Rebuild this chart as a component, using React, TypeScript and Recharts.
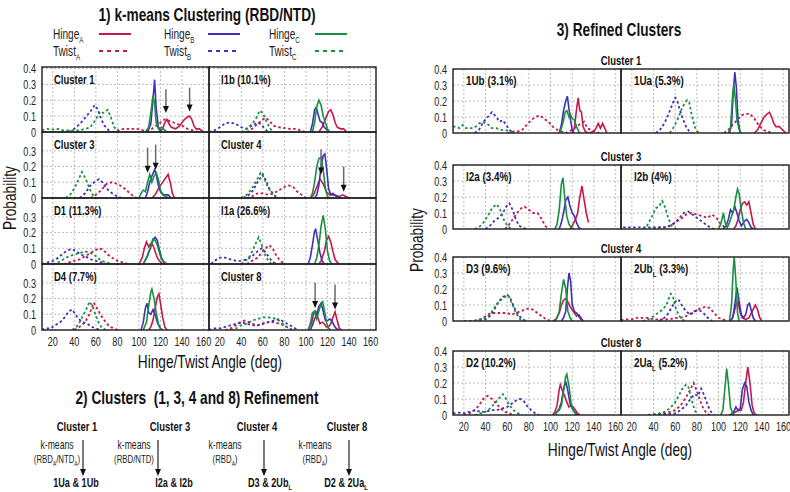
import React from 'react';
import { LineChart, Line, XAxis, YAxis, CartesianGrid, ReferenceLine } from 'recharts';

type Pt = [number, number];

const RED = '#c8174a';
const BLUE = '#3f30b8';
const GREEN = '#17903f';
const FONT = '"Liberation Sans", Arial, sans-serif';
const SX = 0.76; // horizontal squeeze, the figure uses a narrow face
const TICK_SX = 0.7;

const X_TICKS = [20, 40, 60, 80, 100, 120, 140, 160];
const X_MINOR = [10, 20, 30, 40, 50, 60, 70, 80, 90, 100, 110, 120, 130, 140, 150, 160];
const Y_TICKS = [0, 0.1, 0.2, 0.3, 0.4];
const Y_TICKS_LOW = [0, 0.1, 0.2, 0.3];
const Y_MINOR = [0, 0.05, 0.1, 0.15, 0.2, 0.25, 0.3, 0.35, 0.4];

// ---- 1) k-means clusters ----
// Cluster 1
const c1HingeA: Pt[] = [[118, 0], [122, 0.02], [124, 0.06], [126, 0.08], [128, 0.05], [130, 0.03], [134, 0.02], [138, 0.04], [141, 0.07], [144, 0.09], [147, 0.1], [149, 0.08], [151, 0.04], [153, 0.02], [156, 0.02], [160, 0]];
const c1HingeB: Pt[] = [[108, 0], [111, 0.05], [113, 0.2], [114.5, 0.33], [116, 0.15], [118, 0.03], [121, 0]];
const c1HingeC: Pt[] = [[106, 0], [109, 0.03], [111, 0.12], [113, 0.23], [114.5, 0.18], [116, 0.06], [118, 0.02], [121, 0.03], [124, 0.01], [126, 0]];
const c1TwistA: Pt[] = [[75, 0], [80, 0.01], [86, 0.02], [92, 0.02], [98, 0.02], [104, 0.01], [108, 0.01], [112, 0.02], [116, 0.04], [120, 0.06], [124, 0.08], [128, 0.07], [132, 0.06], [136, 0.05], [140, 0.04], [145, 0.02], [150, 0.01], [155, 0]];
const c1TwistB: Pt[] = [[35, 0], [40, 0.02], [45, 0.05], [50, 0.09], [55, 0.13], [59, 0.17], [62, 0.14], [65, 0.08], [68, 0.04], [72, 0.01], [75, 0]];
const c1TwistC: Pt[] = [[10, 0.01], [15, 0.02], [20, 0.015], [25, 0.02], [30, 0.01], [35, 0.01], [45, 0.01], [55, 0.03], [60, 0.08], [64, 0.13], [67, 0.12], [71, 0.14], [74, 0.09], [77, 0.03], [80, 0.01], [83, 0]];

// I1b
const i1bHingeA: Pt[] = [[112, 0], [115, 0.03], [118, 0.08], [121, 0.13], [123, 0.14], [125, 0.11], [127, 0.06], [129, 0.03], [132, 0.02], [135, 0.02], [138, 0]];
const i1bHingeB: Pt[] = [[104, 0], [106, 0.05], [108, 0.14], [109.5, 0.155], [111, 0.12], [113, 0.07], [115, 0.06], [117, 0.03], [120, 0.01], [122, 0]];
const i1bHingeC: Pt[] = [[106, 0], [108, 0.06], [110, 0.16], [112, 0.2], [114, 0.17], [116, 0.1], [118, 0.06], [120, 0.02], [122, 0]];
const i1bTwistA: Pt[] = [[45, 0], [50, 0.02], [55, 0.05], [60, 0.08], [63, 0.09], [66, 0.07], [70, 0.04], [75, 0.03], [80, 0.025], [85, 0.02], [90, 0.02], [95, 0.01], [100, 0]];
const i1bTwistB: Pt[] = [[10, 0], [15, 0.01], [20, 0.03], [25, 0.055], [30, 0.06], [35, 0.05], [40, 0.03], [45, 0.02], [50, 0.04], [55, 0.06], [58, 0.05], [62, 0.02], [65, 0]];
const i1bTwistC: Pt[] = [[40, 0], [45, 0.02], [50, 0.05], [54, 0.09], [57, 0.135], [60, 0.12], [63, 0.07], [67, 0.02], [70, 0]];

// Cluster 3
const c3HingeA: Pt[] = [[112, 0], [115, 0.02], [118, 0.06], [121, 0.09], [124, 0.12], [127, 0.15], [129, 0.1], [131, 0.03], [133, 0]];
const c3HingeB: Pt[] = [[106, 0], [108, 0.04], [110, 0.1], [112, 0.14], [114.5, 0.18], [116, 0.15], [118, 0.08], [120, 0.04], [123, 0.02], [127, 0.02], [130, 0]];
const c3HingeC: Pt[] = [[100, 0], [102, 0.03], [104, 0.05], [106, 0.04], [108, 0.1], [110, 0.15], [112, 0.1], [114, 0.14], [116, 0.16], [118, 0.12], [120, 0.05], [122, 0.02], [125, 0.01], [127, 0]];
const c3TwistA: Pt[] = [[55, 0], [60, 0.02], [65, 0.05], [70, 0.09], [75, 0.1], [80, 0.09], [85, 0.07], [90, 0.04], [95, 0.01], [98, 0]];
const c3TwistB: Pt[] = [[45, 0], [50, 0.03], [55, 0.08], [60, 0.11], [63, 0.12], [66, 0.1], [70, 0.06], [75, 0.03], [80, 0.01], [84, 0]];
const c3TwistC: Pt[] = [[32, 0], [36, 0.02], [40, 0.06], [44, 0.12], [47, 0.165], [50, 0.13], [53, 0.08], [56, 0.03], [60, 0]];

// Cluster 4
const c4HingeA: Pt[] = [[104, 0], [107, 0.02], [110, 0.07], [113, 0.12], [116, 0.09], [119, 0.04], [122, 0.02], [125, 0.03], [128, 0.01], [131, 0.01], [134, 0.02], [137, 0.01], [140, 0]];
const c4HingeB: Pt[] = [[108, 0], [110, 0.02], [112, 0.08], [114, 0.2], [116, 0.27], [117.5, 0.28], [119, 0.2], [121, 0.06], [123, 0.02], [126, 0.02], [129, 0.015], [132, 0]];
const c4HingeC: Pt[] = [[104, 0], [106, 0.03], [108, 0.1], [110, 0.2], [112, 0.25], [114, 0.26], [116, 0.18], [118, 0.06], [120, 0.01], [122, 0]];
const c4TwistA: Pt[] = [[45, 0], [50, 0.01], [55, 0.03], [60, 0.03], [65, 0.02], [70, 0.03], [75, 0.05], [80, 0.07], [84, 0.08], [88, 0.07], [92, 0.04], [96, 0.02], [100, 0]];
const c4TwistB: Pt[] = [[42, 0], [47, 0.02], [51, 0.05], [55, 0.1], [60, 0.15], [63, 0.11], [66, 0.06], [70, 0.02], [74, 0]];
const c4TwistC: Pt[] = [[40, 0], [45, 0.02], [50, 0.06], [54, 0.11], [58, 0.16], [61, 0.13], [64, 0.08], [68, 0.03], [72, 0]];

// D1
const d1HingeA: Pt[] = [[100, 0], [103, 0.04], [105, 0.1], [107, 0.14], [109, 0.11], [111, 0.13], [113, 0.12], [115, 0.08], [117, 0.04], [119, 0.02], [122, 0]];
const d1HingeB: Pt[] = [[104, 0], [107, 0.04], [110, 0.09], [113, 0.15], [115, 0.17], [117, 0.15], [119, 0.09], [121, 0.04], [123, 0.01], [125, 0]];
const d1HingeC: Pt[] = [[104, 0], [108, 0.05], [111, 0.12], [113, 0.16], [115, 0.15], [117, 0.12], [119, 0.07], [121, 0.03], [124, 0.01], [126, 0]];
const d1TwistA: Pt[] = [[30, 0], [35, 0.01], [40, 0.02], [45, 0.03], [50, 0.05], [55, 0.07], [60, 0.09], [63, 0.1], [67, 0.09], [71, 0.06], [75, 0.04], [80, 0.02], [85, 0.01], [90, 0]];
const d1TwistB: Pt[] = [[10, 0], [15, 0.01], [20, 0.02], [25, 0.04], [30, 0.07], [35, 0.09], [38, 0.095], [42, 0.08], [46, 0.06], [50, 0.05], [55, 0.03], [60, 0.02], [65, 0.01], [70, 0]];
const d1TwistC: Pt[] = [[20, 0], [25, 0.01], [30, 0.03], [35, 0.05], [40, 0.06], [45, 0.07], [50, 0.08], [55, 0.07], [60, 0.05], [65, 0.02], [70, 0.01], [75, 0]];

// I1a
const i1aHingeA: Pt[] = [[112, 0], [114, 0.02], [117, 0.08], [119, 0.15], [121, 0.175], [123, 0.14], [125, 0.08], [127, 0.03], [129, 0.01], [131, 0]];
const i1aHingeB: Pt[] = [[102, 0], [104, 0.04], [106, 0.12], [108, 0.21], [109, 0.22], [111, 0.15], [113, 0.07], [115, 0.02], [117, 0]];
const i1aHingeC: Pt[] = [[108, 0], [110, 0.04], [112, 0.12], [114, 0.24], [116, 0.31], [118, 0.22], [120, 0.08], [122, 0.02], [124, 0]];
const i1aTwistA: Pt[] = [[45, 0], [50, 0.02], [55, 0.04], [60, 0.08], [64, 0.11], [66, 0.12], [69, 0.1], [72, 0.06], [75, 0.03], [78, 0.01], [81, 0]];
const i1aTwistB: Pt[] = [[12, 0], [15, 0.02], [20, 0.04], [25, 0.04], [30, 0.03], [35, 0.02], [40, 0.02], [45, 0.03], [50, 0.05], [55, 0.08], [59, 0.1], [63, 0.07], [67, 0.03], [70, 0.01], [74, 0]];
const i1aTwistC: Pt[] = [[40, 0], [44, 0.02], [48, 0.05], [52, 0.11], [56, 0.17], [59, 0.12], [62, 0.06], [65, 0.02], [68, 0]];

// D4
const d4HingeA: Pt[] = [[109, 0], [111, 0.02], [113, 0.06], [115, 0.14], [117, 0.21], [118.5, 0.23], [120, 0.17], [122, 0.08], [124, 0.02], [126, 0]];
const d4HingeB: Pt[] = [[102, 0], [104, 0.05], [106, 0.14], [107.5, 0.17], [109, 0.11], [111, 0.1], [113, 0.13], [115, 0.1], [117, 0.05], [119, 0.02], [121, 0]];
const d4HingeC: Pt[] = [[104, 0], [107, 0.05], [109, 0.15], [111, 0.24], [112, 0.26], [114, 0.2], [116, 0.11], [118, 0.04], [120, 0.01], [122, 0]];
const d4TwistA: Pt[] = [[40, 0], [45, 0.02], [50, 0.05], [54, 0.1], [58, 0.175], [61, 0.14], [65, 0.09], [69, 0.05], [73, 0.02], [77, 0.01], [80, 0]];
const d4TwistB: Pt[] = [[10, 0], [13, 0.01], [18, 0.01], [22, 0.03], [27, 0.05], [31, 0.08], [35, 0.12], [38, 0.13], [41, 0.1], [44, 0.07], [48, 0.05], [52, 0.04], [56, 0.02], [60, 0.01], [64, 0]];
const d4TwistC: Pt[] = [[38, 0], [42, 0.02], [45, 0.05], [48, 0.09], [51, 0.13], [54, 0.18], [57, 0.15], [60, 0.09], [63, 0.04], [66, 0.01], [70, 0]];

// Cluster 8
const c8HingeA: Pt[] = [[102, 0], [105, 0.04], [107, 0.1], [109, 0.12], [111, 0.08], [113, 0.04], [115, 0.05], [117, 0.04], [119, 0.02], [121, 0.02], [123, 0.04], [125, 0.08], [127, 0.115], [129, 0.06], [131, 0.01], [133, 0]];
const c8HingeB: Pt[] = [[104, 0], [106, 0.03], [108, 0.07], [110, 0.1], [112, 0.15], [114, 0.17], [116, 0.12], [118, 0.06], [120, 0.06], [122, 0.07], [124, 0.06], [126, 0.03], [128, 0.01], [130, 0]];
const c8HingeC: Pt[] = [[102, 0], [104, 0.04], [106, 0.11], [108, 0.12], [110, 0.07], [112, 0.12], [114, 0.17], [115.5, 0.18], [117, 0.13], [119, 0.05], [121, 0.01], [123, 0]];
const c8TwistA: Pt[] = [[25, 0], [30, 0.01], [35, 0.03], [40, 0.05], [43, 0.06], [47, 0.05], [50, 0.04], [55, 0.03], [60, 0.04], [65, 0.05], [70, 0.05], [75, 0.04], [80, 0.03], [84, 0.01], [88, 0]];
const c8TwistB: Pt[] = [[10, 0], [15, 0.01], [20, 0.01], [25, 0.02], [30, 0.03], [35, 0.04], [40, 0.05], [45, 0.04], [50, 0.03], [55, 0.03], [60, 0.04], [65, 0.05], [70, 0.06], [75, 0.07], [80, 0.05], [85, 0.03], [90, 0.01], [93, 0]];
const c8TwistC: Pt[] = [[30, 0], [35, 0.01], [40, 0.03], [45, 0.04], [50, 0.06], [55, 0.07], [60, 0.08], [65, 0.08], [70, 0.075], [75, 0.06], [80, 0.03], [84, 0.01], [88, 0]];

// ---- 3) refined clusters ----
// 1Ub
const u1bHingeA: Pt[] = [[120, 0], [122, 0.03], [124, 0.15], [125.5, 0.22], [127, 0.14], [128.5, 0.13], [130, 0.04], [132, 0.01], [135, 0], [140, 0.01], [142, 0.03], [144, 0.06], [146, 0.03], [148, 0.06], [150, 0.03], [152, 0]];
const u1bHingeB: Pt[] = [[108, 0], [110, 0.05], [112, 0.14], [114, 0.2], [115.5, 0.23], [117, 0.15], [118.5, 0.08], [120, 0.02], [121, 0]];
const u1bHingeC: Pt[] = [[108, 0], [110, 0.03], [112, 0.08], [113.5, 0.13], [115, 0.14], [117, 0.1], [118, 0.12], [120, 0.09], [122, 0.08], [124, 0.04], [126, 0.01], [127, 0]];
const u1bTwistA: Pt[] = [[60, 0], [66, 0.01], [70, 0.01], [74, 0.02], [78, 0.05], [82, 0.08], [86, 0.1], [90, 0.11], [94, 0.09], [98, 0.07], [102, 0.04], [106, 0.02], [110, 0.01], [114, 0], [120, 0.02], [124, 0.04], [128, 0.06], [131, 0.07], [134, 0.03], [137, 0.02], [141, 0.01], [145, 0]];
const u1bTwistB: Pt[] = [[30, 0], [34, 0.02], [38, 0.07], [42, 0.1], [46, 0.13], [50, 0.1], [53, 0.07], [56, 0.08], [59, 0.05], [62, 0.02], [66, 0]];
const u1bTwistC: Pt[] = [[10, 0.04], [13, 0.04], [16, 0.03], [19, 0.05], [22, 0.03], [25, 0.03], [28, 0.03], [31, 0.04], [34, 0.06], [37, 0.07], [40, 0.06], [43, 0.05], [46, 0.03], [50, 0.03], [54, 0.02], [58, 0.02], [62, 0.01], [66, 0]];

// 1Ua
const u1aHingeA: Pt[] = [[133, 0], [136, 0.02], [139, 0.06], [142, 0.1], [145, 0.12], [147, 0.13], [149, 0.1], [151, 0.06], [153, 0.04], [156, 0.04], [159, 0.02], [162, 0]];
const u1aHingeB: Pt[] = [[110, 0], [112, 0.05], [113.5, 0.25], [115, 0.38], [116.5, 0.28], [118, 0.08], [120, 0]];
const u1aHingeC: Pt[] = [[109, 0], [111, 0.03], [113, 0.24], [114, 0.3], [115.5, 0.22], [117, 0.08], [119, 0.02], [121, 0]];
const u1aTwistA: Pt[] = [[105, 0], [109, 0.02], [113, 0.05], [117, 0.08], [121, 0.11], [125, 0.12], [129, 0.12], [133, 0.09], [137, 0.05], [141, 0.02], [145, 0.01], [150, 0]];
const u1aTwistB: Pt[] = [[42, 0], [46, 0.02], [50, 0.06], [54, 0.12], [58, 0.19], [60, 0.22], [62, 0.2], [64, 0.15], [67, 0.09], [70, 0.04], [73, 0.01], [76, 0]];
const u1aTwistC: Pt[] = [[55, 0], [58, 0.03], [62, 0.08], [66, 0.15], [69, 0.19], [71, 0.205], [73, 0.19], [75, 0.12], [78, 0.04], [80, 0.01], [83, 0]];

// I2a
const i2aHingeA: Pt[] = [[118, 0], [120, 0.02], [123, 0.06], [125, 0.1], [127, 0.2], [129, 0.27], [131, 0.18], [133, 0.1], [135, 0.04]];
const i2aHingeB: Pt[] = [[108, 0], [110, 0.04], [112, 0.1], [114, 0.18], [116, 0.2], [118, 0.14], [120, 0.1], [122, 0.08], [124, 0.04], [126, 0.01], [128, 0]];
const i2aHingeC: Pt[] = [[104, 0], [106, 0.03], [108, 0.12], [110, 0.28], [111.5, 0.32], [113, 0.2], [115, 0.08], [117, 0.03], [119, 0.01], [121, 0]];
const i2aTwistA: Pt[] = [[58, 0], [61, 0.02], [65, 0.06], [69, 0.1], [73, 0.13], [76, 0.14], [80, 0.12], [84, 0.1], [88, 0.1], [92, 0.06], [95, 0.02], [98, 0]];
const i2aTwistB: Pt[] = [[40, 0], [44, 0.02], [48, 0.05], [52, 0.07], [56, 0.1], [60, 0.15], [62, 0.16], [65, 0.12], [68, 0.06], [71, 0.02], [74, 0.01], [78, 0]];
const i2aTwistC: Pt[] = [[30, 0], [34, 0.01], [38, 0.04], [42, 0.08], [46, 0.13], [50, 0.155], [53, 0.13], [56, 0.07], [60, 0.02], [64, 0]];

// I2b
const i2bHingeA: Pt[] = [[114, 0], [116, 0.02], [118, 0.06], [120, 0.12], [122, 0.16], [124, 0.17], [126, 0.15], [128, 0.17], [130, 0.1], [132, 0.03], [134, 0]];
const i2bHingeB: Pt[] = [[104, 0], [107, 0.02], [109, 0.06], [111, 0.12], [113, 0.1], [115, 0.14], [117, 0.1], [119, 0.05], [121, 0.02], [124, 0.05], [126, 0.06], [128, 0.04], [130, 0.01], [132, 0]];
const i2bHingeC: Pt[] = [[100, 0], [102, 0.03], [104.5, 0.1], [106, 0.04], [108, 0.01], [110, 0.04], [112, 0.08], [114, 0.12], [116, 0.2], [117.5, 0.25], [119, 0.22], [121, 0.12], [123, 0.04], [125, 0]];
const i2bTwistA: Pt[] = [[40, 0], [45, 0.01], [50, 0.01], [55, 0.02], [60, 0.04], [65, 0.06], [70, 0.09], [75, 0.1], [80, 0.09], [85, 0.08], [90, 0.07], [94, 0.09], [98, 0.07], [102, 0.03], [106, 0.01], [108, 0]];
const i2bTwistB: Pt[] = [[12, 0.01], [20, 0.01], [30, 0.01], [40, 0.01], [50, 0.01], [55, 0.02], [60, 0.04], [64, 0.07], [68, 0.1], [72, 0.11], [76, 0.09], [80, 0.07], [84, 0.05], [88, 0.03], [92, 0.01], [96, 0]];
const i2bTwistC: Pt[] = [[30, 0], [34, 0.02], [38, 0.07], [42, 0.13], [45, 0.14], [48, 0.175], [51, 0.13], [54, 0.06], [57, 0.02], [61, 0]];

// D3
const d3HingeA: Pt[] = [[102, 0], [105, 0.01], [108, 0.05], [110, 0.1], [112, 0.13], [114, 0.14], [116, 0.12], [118, 0.09], [120, 0.07], [122, 0.05], [124, 0.03], [126, 0.04], [128, 0.02], [130, 0]];
const d3HingeB: Pt[] = [[110, 0], [112, 0.02], [114, 0.06], [115.5, 0.2], [117, 0.3], [118.5, 0.25], [120, 0.1], [122, 0.06], [124, 0.05], [126, 0.03], [128, 0.01], [130, 0]];
const d3HingeC: Pt[] = [[104, 0], [106, 0.02], [108, 0.06], [110, 0.17], [112, 0.26], [114, 0.2], [116, 0.06], [118, 0.02], [120, 0]];
const d3TwistA: Pt[] = [[30, 0], [35, 0.01], [40, 0.03], [45, 0.05], [50, 0.05], [55, 0.05], [60, 0.05], [64, 0.04], [68, 0.05], [72, 0.06], [76, 0.07], [80, 0.08], [84, 0.07], [88, 0.05], [92, 0.03], [96, 0.01], [100, 0]];
const d3TwistB: Pt[] = [[25, 0], [35, 0.005], [40, 0.01], [44, 0.03], [48, 0.07], [52, 0.12], [56, 0.15], [60, 0.165], [63, 0.14], [66, 0.09], [70, 0.04], [74, 0.01], [78, 0]];
const d3TwistC: Pt[] = [[20, 0], [30, 0], [35, 0.01], [40, 0.02], [44, 0.04], [48, 0.08], [52, 0.12], [56, 0.14], [60, 0.16], [62, 0.15], [65, 0.1], [68, 0.05], [72, 0.01], [75, 0]];

// 2Ub_L
const u2bHingeA: Pt[] = [[110, 0], [113, 0.02], [116, 0.1], [118, 0.12], [120, 0.05], [122, 0.02], [125, 0.01], [128, 0.02], [131, 0.06], [134, 0.1], [136, 0.07], [138, 0.02], [140, 0]];
const u2bHingeB: Pt[] = [[111, 0], [113, 0.02], [115, 0.1], [117, 0.21], [119, 0.12], [121, 0.04], [123, 0.02], [125, 0.04], [127, 0.1], [128.5, 0.11], [130, 0.07], [132, 0.02], [134, 0]];
const u2bHingeC: Pt[] = [[110, 0], [112, 0.1], [113.5, 0.32], [114.5, 0.4], [116, 0.25], [117.5, 0.05], [119, 0]];
const u2bTwistA: Pt[] = [[10, 0.005], [15, 0.01], [20, 0.01], [25, 0.02], [30, 0.02], [35, 0.02], [40, 0.01], [45, 0.01], [50, 0.01], [55, 0.01], [60, 0.02], [65, 0.02], [70, 0.03], [75, 0.05], [80, 0.07], [84, 0.08], [88, 0.09], [92, 0.08], [96, 0.05], [100, 0.02], [104, 0.01], [108, 0]];
const u2bTwistB: Pt[] = [[45, 0], [50, 0.02], [54, 0.05], [57, 0.09], [60, 0.12], [63, 0.135], [66, 0.1], [70, 0.06], [74, 0.04], [78, 0.06], [82, 0.07], [86, 0.05], [90, 0.02], [94, 0]];
const u2bTwistC: Pt[] = [[30, 0], [35, 0.01], [40, 0.03], [44, 0.05], [48, 0.07], [52, 0.1], [54, 0.14], [56, 0.17], [58, 0.15], [60, 0.09], [63, 0.04], [66, 0.01], [70, 0]];

// D2
const d2HingeA: Pt[] = [[102, 0], [104, 0.02], [106, 0.06], [108, 0.16], [109, 0.19], [111, 0.15], [113, 0.12], [115, 0.08], [117, 0.05], [119, 0.06], [121, 0.05], [123, 0.03], [125, 0.01], [127, 0]];
const d2HingeB: Pt[] = [[104, 0], [106, 0.02], [108, 0.04], [110, 0.08], [112, 0.16], [114, 0.21], [116, 0.15], [118, 0.07], [120, 0.04], [122, 0.02], [124, 0]];
const d2HingeC: Pt[] = [[104, 0], [106, 0.02], [108, 0.03], [110, 0.06], [112, 0.15], [114, 0.24], [115, 0.255], [117, 0.18], [119, 0.07], [121, 0.03], [123, 0.01], [125, 0]];
const d2TwistA: Pt[] = [[20, 0], [25, 0.01], [30, 0.03], [34, 0.06], [38, 0.1], [42, 0.12], [46, 0.1], [50, 0.07], [54, 0.04], [58, 0.02], [62, 0.01], [66, 0]];
const d2TwistB: Pt[] = [[10, 0.01], [15, 0.015], [20, 0.01], [25, 0.02], [30, 0.03], [35, 0.02], [40, 0.02], [45, 0.03], [50, 0.03], [55, 0.04], [60, 0.05], [64, 0.07], [68, 0.09], [72, 0.1], [75, 0.09], [78, 0.06], [82, 0.03], [86, 0.01], [90, 0]];
const d2TwistC: Pt[] = [[30, 0], [35, 0.01], [40, 0.02], [44, 0.04], [48, 0.07], [52, 0.1], [56, 0.13], [59, 0.1], [62, 0.06], [66, 0.03], [70, 0.01], [74, 0]];

// 2Ua_L
const u2aHingeA: Pt[] = [[110, 0], [113, 0.01], [116, 0.02], [119, 0.03], [121, 0.03], [123, 0.08], [125, 0.2], [127, 0.3], [129, 0.2], [131, 0.06], [133, 0.01], [135, 0]];
const u2aHingeB: Pt[] = [[112, 0], [114, 0.02], [116, 0.05], [118, 0.03], [120, 0.04], [122, 0.16], [124, 0.2], [126, 0.18], [128, 0.08], [130, 0.03], [132, 0]];
const u2aHingeC: Pt[] = [[102, 0], [104, 0.03], [106, 0.18], [107.5, 0.29], [109, 0.2], [111, 0.05], [113, 0.01], [115, 0]];
const u2aTwistA: Pt[] = [[40, 0], [45, 0.005], [50, 0.01], [55, 0.02], [60, 0.03], [65, 0.06], [70, 0.11], [74, 0.16], [77, 0.2], [80, 0.15], [83, 0.09], [86, 0.04], [89, 0.01], [92, 0]];
const u2aTwistB: Pt[] = [[40, 0], [50, 0.005], [60, 0.01], [65, 0.03], [70, 0.06], [74, 0.1], [78, 0.13], [81, 0.12], [84, 0.165], [87, 0.12], [90, 0.06], [93, 0.02], [96, 0]];
const u2aTwistC: Pt[] = [[35, 0], [40, 0.005], [45, 0.01], [50, 0.02], [55, 0.04], [60, 0.08], [64, 0.13], [67, 0.17], [70, 0.19], [72, 0.18], [75, 0.1], [78, 0.03], [81, 0]];

// annotation arrows: [angle, top prob, tip prob]
const c1Arrows = [[125, 0.27, 0.12], [147, 0.28, 0.13]];
const c3Arrows = [[108, 0.32, 0.16], [115.5, 0.34, 0.18]];
const c4Arrows = [[114, 0.31, 0.15], [135, 0.2, 0.04]];
const c8Arrows = [[108.5, 0.3, 0.14], [127, 0.29, 0.13]];

interface PanelDef {
  label: string[];
  hA: Pt[]; hB: Pt[]; hC: Pt[]; tA: Pt[]; tB: Pt[]; tC: Pt[];
  arrows?: number[][];
}

const leftPanels: PanelDef[] = [
  { label: ['Cluster 1'], hA: c1HingeA, hB: c1HingeB, hC: c1HingeC, tA: c1TwistA, tB: c1TwistB, tC: c1TwistC, arrows: c1Arrows },
  { label: ['I1b (10.1%)'], hA: i1bHingeA, hB: i1bHingeB, hC: i1bHingeC, tA: i1bTwistA, tB: i1bTwistB, tC: i1bTwistC },
  { label: ['Cluster 3'], hA: c3HingeA, hB: c3HingeB, hC: c3HingeC, tA: c3TwistA, tB: c3TwistB, tC: c3TwistC, arrows: c3Arrows },
  { label: ['Cluster 4'], hA: c4HingeA, hB: c4HingeB, hC: c4HingeC, tA: c4TwistA, tB: c4TwistB, tC: c4TwistC, arrows: c4Arrows },
  { label: ['D1 (11.3%)'], hA: d1HingeA, hB: d1HingeB, hC: d1HingeC, tA: d1TwistA, tB: d1TwistB, tC: d1TwistC },
  { label: ['I1a (26.6%)'], hA: i1aHingeA, hB: i1aHingeB, hC: i1aHingeC, tA: i1aTwistA, tB: i1aTwistB, tC: i1aTwistC },
  { label: ['D4 (7.7%)'], hA: d4HingeA, hB: d4HingeB, hC: d4HingeC, tA: d4TwistA, tB: d4TwistB, tC: d4TwistC },
  { label: ['Cluster 8'], hA: c8HingeA, hB: c8HingeB, hC: c8HingeC, tA: c8TwistA, tB: c8TwistB, tC: c8TwistC, arrows: c8Arrows },
];

const rightPanels: PanelDef[] = [
  { label: ['1Ub (3.1%)'], hA: u1bHingeA, hB: u1bHingeB, hC: u1bHingeC, tA: u1bTwistA, tB: u1bTwistB, tC: u1bTwistC },
  { label: ['1Ua (5.3%)'], hA: u1aHingeA, hB: u1aHingeB, hC: u1aHingeC, tA: u1aTwistA, tB: u1aTwistB, tC: u1aTwistC },
  { label: ['I2a (3.4%)'], hA: i2aHingeA, hB: i2aHingeB, hC: i2aHingeC, tA: i2aTwistA, tB: i2aTwistB, tC: i2aTwistC },
  { label: ['I2b (4%)'], hA: i2bHingeA, hB: i2bHingeB, hC: i2bHingeC, tA: i2bTwistA, tB: i2bTwistB, tC: i2bTwistC },
  { label: ['D3 (9.6%)'], hA: d3HingeA, hB: d3HingeB, hC: d3HingeC, tA: d3TwistA, tB: d3TwistB, tC: d3TwistC },
  { label: ['2Ub', 'L', ' (3.3%)'], hA: u2bHingeA, hB: u2bHingeB, hC: u2bHingeC, tA: u2bTwistA, tB: u2bTwistB, tC: u2bTwistC },
  { label: ['D2 (10.2%)'], hA: d2HingeA, hB: d2HingeB, hC: d2HingeC, tA: d2TwistA, tB: d2TwistB, tC: d2TwistC },
  { label: ['2Ua', 'L', ' (5.2%)'], hA: u2aHingeA, hB: u2aHingeB, hC: u2aHingeC, tA: u2aTwistA, tB: u2aTwistB, tC: u2aTwistC },
];

const rightClusterNames = ['Cluster 1', 'Cluster 3', 'Cluster 4', 'Cluster 8'];

// layout
const LEFT_COLS = [42, 209];
const LEFT_W = 167;
const LEFT_ROWS = [{ top: 67, h: 65, max: 0.41 }, { top: 132, h: 66, max: 0.42 }, { top: 198, h: 66, max: 0.42 }, { top: 264, h: 66, max: 0.42 }];
const RIGHT_COLS = [453, 621];
const RIGHT_W = 168;
const RIGHT_ROWS = [{ top: 69, h: 64, max: 0.4 }, { top: 165, h: 64, max: 0.4 }, { top: 257, h: 64, max: 0.4 }, { top: 351, h: 64, max: 0.4 }];
const PAD = 8;

const toPts = (arr: Pt[]) => arr.map(([x, y]) => ({ x, y }));

const arrowShape = (p: any) => (
  <g>
    <line x1={p.x1} y1={p.y1} x2={p.x2} y2={p.y2 - 5} stroke="#6a6a6a" strokeWidth={1.5} />
    <path d={`M${p.x2 - 3},${p.y2 - 7} L${p.x2 + 3},${p.y2 - 7} L${p.x2},${p.y2} Z`} fill="#111" />
  </g>
);

const fmtTick = (v: number) => (Number.isInteger(v) ? String(v) : v.toFixed(1));

const XTick = (p: any) => (
  <text transform={`translate(${p.x},${p.y}) scale(${TICK_SX},1)`} textAnchor="middle" dy="0.75em"
    fontSize={13} fontFamily={FONT} fill="#222">{fmtTick(p.payload.value)}</text>
);
const YTick = (p: any) => (
  <text transform={`translate(${p.x},${p.y}) scale(${TICK_SX},1)`} textAnchor="end" dy="0.36em"
    fontSize={13} fontFamily={FONT} fill="#222">{fmtTick(p.payload.value)}</text>
);

function Panel({ def, left, top, w, h, max, showY, showX, yTicks }: {
  def: PanelDef; left: number; top: number; w: number; h: number; max: number;
  showY: boolean; showX: boolean; yTicks: number[];
}) {
  const gutL = showY ? 40 : 0;
  const gutB = showX ? 22 : 0;
  const series = [
    { d: def.tA, c: RED, dash: true }, { d: def.tB, c: BLUE, dash: true }, { d: def.tC, c: GREEN, dash: true },
    { d: def.hA, c: RED, dash: false }, { d: def.hB, c: BLUE, dash: false }, { d: def.hC, c: GREEN, dash: false },
  ];
  return (
    <div style={{ position: 'absolute', left: left - gutL, top: top - PAD }}>
      <LineChart width={w + gutL + PAD} height={h + gutB + 2 * PAD}
        margin={{ top: PAD, right: PAD, bottom: PAD, left: 0 }}>
        <CartesianGrid xAxisId="x" yAxisId="y" stroke="#bdbdbd" strokeDasharray="2 2" />
        <XAxis xAxisId="x" type="number" dataKey="x" domain={[10, 165]} ticks={X_TICKS} allowDataOverflow
          hide={!showX} height={gutB} axisLine={false} tickLine={false} tickSize={4} tick={XTick} interval={0} />
        <XAxis xAxisId="xt" orientation="top" mirror type="number" domain={[10, 165]} ticks={X_MINOR} allowDataOverflow
          tick={false} axisLine={false} tickSize={3} stroke="#333" />
        <XAxis xAxisId="xb" orientation="bottom" mirror type="number" domain={[10, 165]} ticks={X_MINOR} allowDataOverflow
          tick={false} axisLine={false} tickSize={3} stroke="#333" />
        <YAxis yAxisId="y" type="number" domain={[0, max]} ticks={yTicks} allowDataOverflow
          hide={!showY} width={gutL} axisLine={false} tickLine={false} tickSize={4} tick={YTick} interval={0} />
        <YAxis yAxisId="yl" orientation="left" mirror type="number" domain={[0, max]} ticks={Y_MINOR} allowDataOverflow
          tick={false} axisLine={false} tickSize={3} stroke="#333" />
        <YAxis yAxisId="yr" orientation="right" mirror type="number" domain={[0, max]} ticks={Y_MINOR} allowDataOverflow
          tick={false} axisLine={false} tickSize={3} stroke="#333" />
        {series.map((s, i) => (
          <Line key={i} xAxisId="x" yAxisId="y" data={toPts(s.d)} dataKey="y" type="linear" stroke={s.c}
            strokeWidth={s.dash ? 1.8 : 1.6} strokeDasharray={s.dash ? '2.5 2.5' : undefined}
            dot={false} activeDot={false} isAnimationActive={false} />
        ))}
        {(def.arrows || []).map((a, i) => (
          <ReferenceLine key={`a${i}`} xAxisId="x" yAxisId="y" segment={[{ x: a[0], y: a[1] }, { x: a[0], y: a[2] }]}
            shape={arrowShape} ifOverflow="visible" />
        ))}
      </LineChart>
    </div>
  );
}

// narrow text with optional subscripts: parts alternate normal / subscript
function NText({ x, y, parts, size, weight, anchor = 'start', rotate = 0, sx = SX, fill = '#111' }: {
  x: number; y: number; parts: string[]; size: number; weight?: string; anchor?: string; rotate?: number; sx?: number; fill?: string;
}) {
  const off = size * 0.28;
  return (
    <text transform={`translate(${x},${y}) rotate(${rotate}) scale(${sx},1)`} fontSize={size} fontWeight={weight}
      textAnchor={anchor as any} fontFamily={FONT} fill={fill} style={{ whiteSpace: 'pre' }}>
      {parts.map((p, i) => (i % 2 === 1
        ? <tspan key={i} fontSize={size * 0.62} dy={off}>{p}</tspan>
        : <tspan key={i} dy={i === 0 ? 0 : -off}>{p}</tspan>))}
    </text>
  );
}

const legendItems = [
  { name: 'Hinge', sub: 'A', c: RED, dash: false, tx: 53, lx: 99, row: 0 },
  { name: 'Hinge', sub: 'B', c: BLUE, dash: false, tx: 164, lx: 208, row: 0 },
  { name: 'Hinge', sub: 'C', c: GREEN, dash: false, tx: 269, lx: 315, row: 0 },
  { name: 'Twist', sub: 'A', c: RED, dash: true, tx: 53, lx: 99, row: 1 },
  { name: 'Twist', sub: 'B', c: BLUE, dash: true, tx: 164, lx: 208, row: 1 },
  { name: 'Twist', sub: 'C', c: GREEN, dash: true, tx: 269, lx: 315, row: 1 },
];

const steps = [
  { head: 'Cluster 1', hx: 77, km: 57, method: ['(RBD', 'A', '/NTD', 'A', ')'], ax: 83, res: ['1Ua & 1Ub'], rx: 76 },
  { head: 'Cluster 3', hx: 170, km: 134, method: ['(RBD/NTD)'], ax: 158, res: ['I2a & I2b'], rx: 174 },
  { head: 'Cluster 4', hx: 257, km: 225, method: ['(RBD', 'A', ')'], ax: 264, res: ['D3 & 2Ub', 'L'], rx: 270 },
  { head: 'Cluster 8', hx: 347, km: 315, method: ['(RBD', 'A', ')'], ax: 349, res: ['D2 & 2Ua', 'L'], rx: 346 },
];

export default function App() {
  return (
    <div style={{ position: 'absolute', left: 0, top: 0, width: 790, height: 492, background: '#fff', overflow: 'hidden' }}>
      {leftPanels.map((p, i) => {
        const r = Math.floor(i / 2);
        const c = i % 2;
        const row = LEFT_ROWS[r];
        return (
          <Panel key={`l${i}`} def={p} left={LEFT_COLS[c]} top={row.top} w={LEFT_W} h={row.h} max={row.max}
            showY={c === 0} showX={r === 3} yTicks={r === 0 ? Y_TICKS : Y_TICKS_LOW} />
        );
      })}
      {rightPanels.map((p, i) => {
        const r = Math.floor(i / 2);
        const c = i % 2;
        const row = RIGHT_ROWS[r];
        return (
          <Panel key={`r${i}`} def={p} left={RIGHT_COLS[c]} top={row.top} w={RIGHT_W} h={row.h} max={row.max}
            showY={c === 0} showX={r === 3} yTicks={Y_TICKS} />
        );
      })}
      <svg width={790} height={492} style={{ position: 'absolute', left: 0, top: 0, pointerEvents: 'none' }}>
        {/* titles */}
        <NText x={207} y={21} parts={['1) k-means Clustering (RBD/NTD)']} size={18} weight="bold" anchor="middle" />
        <NText x={619} y={36} parts={['3) Refined Clusters']} size={18} weight="bold" anchor="middle" />
        <NText x={197} y={404} parts={['2) Clusters  (1, 3, 4 and 8) Refinement']} size={18} weight="bold" anchor="middle" />

        {/* legend */}
        {legendItems.map((it, i) => {
          const y = it.row === 0 ? 34 : 51;
          return (
            <g key={`lg${i}`}>
              <NText x={it.tx} y={y + 5} parts={[it.name, it.sub]} size={14} sx={0.72} fill="#222" />
              <line x1={it.lx} x2={it.lx + 32} y1={y} y2={y} stroke={it.c} strokeWidth={2}
                strokeDasharray={it.dash ? '4 4' : undefined} />
            </g>
          );
        })}

        {/* panel frames and labels */}
        {leftPanels.map((p, i) => {
          const r = Math.floor(i / 2);
          const c = i % 2;
          const row = LEFT_ROWS[r];
          const x = LEFT_COLS[c];
          return (
            <g key={`lf${i}`}>
              <rect x={x} y={row.top} width={LEFT_W} height={row.h} fill="none" stroke="#222" strokeWidth={1.4} />
              <NText x={x + 12} y={row.top + 17} parts={p.label} size={12.5} weight="bold" />
            </g>
          );
        })}
        {rightPanels.map((p, i) => {
          const r = Math.floor(i / 2);
          const c = i % 2;
          const row = RIGHT_ROWS[r];
          const x = RIGHT_COLS[c];
          return (
            <g key={`rf${i}`}>
              <rect x={x} y={row.top} width={RIGHT_W} height={row.h} fill="none" stroke="#222" strokeWidth={1.4} />
              <NText x={x + 13} y={row.top + 16} parts={p.label} size={13} weight="bold" />
            </g>
          );
        })}
        {rightClusterNames.map((n, i) => (
          <NText key={`cn${i}`} x={621} y={RIGHT_ROWS[i].top - 4} parts={[n]} size={12.5} weight="bold" anchor="middle" />
        ))}

        {/* axis titles */}
        <NText x={210} y={368} parts={['Hinge/Twist Angle (deg)']} size={18} anchor="middle" />
        <NText x={620} y={456} parts={['Hinge/Twist Angle (deg)']} size={18} anchor="middle" />
        <NText x={16} y={198} parts={['Probability']} size={18} anchor="middle" rotate={-90} />
        <NText x={423} y={240} parts={['Probability']} size={18} anchor="middle" rotate={-90} />

        {/* refinement diagram */}
        {steps.map((s, i) => (
          <g key={`st${i}`}>
            <NText x={s.hx} y={431} parts={[s.head]} size={12.5} weight="bold" anchor="middle" />
            <NText x={s.km} y={449} parts={['k-means']} size={12} sx={0.72} anchor="middle" fill="#222" />
            <NText x={s.km} y={463} parts={s.method} size={11.5} sx={0.68} anchor="middle" fill="#222" />
            <line x1={s.ax} x2={s.ax} y1={440} y2={470} stroke="#222" strokeWidth={1.2} />
            <path d={`M${s.ax - 3},${469} L${s.ax + 3},${469} L${s.ax},${476} Z`} fill="#111" />
            <NText x={s.rx} y={487} parts={s.res} size={12} weight="bold" anchor="middle" />
          </g>
        ))}
      </svg>
    </div>
  );
}
